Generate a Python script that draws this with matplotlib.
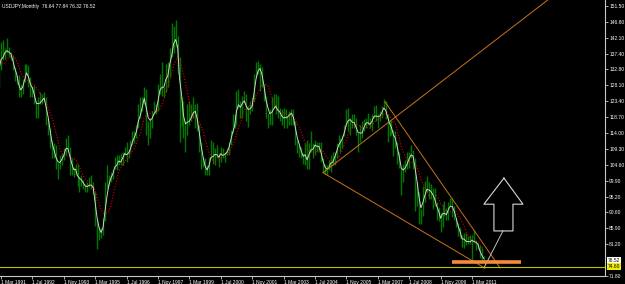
import matplotlib
matplotlib.use("Agg")
import matplotlib.pyplot as plt
import numpy as np
import pandas as pd

# monthly USDJPY bars, Jul 1990 .. Sep 2011 (first 8 months sit left of the visible area)
high = [
    150.5, 151.0, 144.5, 139.5, 134.5, 136.5,
    137.5, 134.0, 141.0, 141.5, 139.0, 142.0, 139.5, 138.0, 137.0, 133.5, 131.0, 131.0,
    128.5, 130.0, 134.5, 134.5, 134.0, 130.5, 128.0, 128.0, 123.5, 124.5, 126.0, 125.5,
    126.0, 124.5, 118.5, 115.5, 112.0, 111.0, 110.5, 105.5, 107.5, 108.0, 109.5, 112.5,
    113.5, 110.0, 106.5, 104.0, 105.0, 105.0, 101.0, 101.5, 100.0, 99.0, 99.5, 101.0,
    101.5, 99.5, 96.5, 88.5, 86.0, 86.0, 89.0, 99.5, 104.5, 101.5, 102.5, 103.5,
    107.0, 107.5, 107.5, 108.0, 108.5, 110.0, 111.5, 109.0, 112.0, 114.5, 114.5, 116.5,
    122.5, 124.5, 124.5, 127.5, 127.0, 117.5, 118.5, 120.5, 123.5, 122.5, 128.5, 131.5,
    135.0, 127.5, 134.5, 135.0, 139.0, 146.5, 145.5, 147.5, 142.5, 136.5, 124.5, 123.5,
    117.5, 122.5, 123.5, 122.5, 124.5, 122.5, 123.0, 116.5, 111.5, 107.0, 106.5, 104.5,
    107.0, 112.0, 111.5, 109.5, 110.5, 108.0, 110.0, 109.5, 108.5, 109.5, 111.5, 115.0,
    119.5, 119.5, 126.5, 127.0, 123.5, 125.0, 126.5, 125.5, 122.0, 123.5, 124.5, 131.5,
    135.0, 135.2, 134.5, 133.5, 128.5, 125.0, 120.0, 121.0, 124.5, 125.5, 125.5, 125.0,
    121.5, 121.0, 121.5, 121.0, 119.0, 120.5, 121.0, 121.0, 117.5, 112.0, 110.5, 110.0,
    108.0, 111.0, 112.0, 111.0, 114.5, 111.0, 112.0, 111.5, 111.5, 111.5, 106.5, 105.0,
    104.5, 106.0, 107.5, 108.5, 108.5, 111.0, 113.5, 112.5, 113.5, 116.5, 121.0, 121.5,
    118.5, 119.5, 119.5, 118.5, 114.0, 116.5, 117.5, 118.0, 118.5, 119.8, 118.5, 119.5,
    122.0, 122.2, 119.5, 120.5, 122.0, 124.1, 123.5, 119.5, 117.5, 117.9, 115.0, 114.5,
    111.5, 108.5, 104.0, 105.0, 106.0, 108.5, 108.5, 110.6, 109.0, 106.5, 99.5, 96.5,
    91.5, 98.5, 99.7, 101.4, 99.5, 98.9, 97.8, 97.8, 93.5, 92.3, 90.8, 93.0,
    93.8, 91.8, 93.5, 94.8, 94.9, 92.5, 89.0, 87.3, 86.2, 83.9, 84.5, 84.5,
    83.7, 84.0, 83.9, 85.5, 82.3, 81.5, 81.0, 80.2, 77.84,
]
low = [
    145.0, 143.5, 136.5, 124.5, 126.5, 132.5,
    130.5, 127.5, 132.5, 135.5, 136.0, 137.5, 136.5, 135.5, 132.5, 129.5, 128.5, 124.5,
    124.5, 125.5, 129.0, 131.5, 127.5, 124.5, 124.5, 122.5, 118.5, 118.5, 122.5, 122.5,
    123.5, 116.5, 113.5, 109.5, 106.5, 106.5, 103.5, 100.5, 103.5, 104.5, 106.0, 107.5,
    108.5, 101.5, 101.5, 101.0, 101.5, 98.5, 96.5, 98.5, 97.5, 96.5, 96.5, 98.0,
    97.5, 96.0, 86.5, 79.8, 82.5, 83.0, 84.0, 88.0, 97.5, 98.5, 99.5, 100.5,
    103.5, 103.0, 104.5, 104.5, 104.5, 107.5, 105.5, 106.5, 108.5, 110.5, 111.0, 112.5,
    115.5, 118.5, 120.5, 122.5, 113.5, 110.5, 112.5, 115.5, 119.5, 119.5, 120.5, 125.5,
    125.0, 124.5, 126.0, 127.5, 130.5, 136.5, 137.5, 139.5, 131.5, 111.5, 116.0, 112.5,
    108.5, 113.5, 116.5, 117.5, 118.5, 115.5, 114.5, 108.5, 103.5, 104.0, 101.5, 101.5,
    101.5, 106.5, 105.0, 104.5, 106.5, 104.0, 105.5, 106.5, 105.5, 107.5, 107.5, 110.5,
    114.0, 115.5, 116.5, 121.5, 118.5, 118.5, 123.0, 117.5, 115.8, 119.5, 120.5, 123.5,
    130.5, 131.5, 126.5, 127.5, 123.5, 118.5, 115.5, 116.5, 116.5, 121.5, 119.5, 118.5,
    117.5, 116.5, 115.5, 118.0, 115.5, 116.5, 116.5, 116.5, 110.5, 108.0, 107.0, 106.5,
    105.0, 104.5, 103.5, 103.5, 108.5, 106.5, 107.5, 108.5, 108.5, 105.5, 102.5, 101.8,
    101.5, 103.0, 102.5, 104.5, 104.5, 106.5, 110.0, 108.5, 109.5, 113.0, 116.0, 114.5,
    113.5, 115.5, 115.5, 113.5, 108.5, 111.5, 112.5, 114.5, 115.5, 116.5, 115.5, 114.5,
    118.5, 117.5, 115.5, 117.5, 118.5, 121.0, 118.0, 111.5, 113.0, 113.5, 107.3, 109.5,
    104.9, 103.8, 95.7, 99.5, 102.5, 103.5, 103.7, 106.5, 103.5, 90.9, 92.5, 87.1,
    87.1, 89.5, 93.5, 96.5, 94.5, 94.5, 91.7, 92.5, 88.2, 88.0, 84.8, 86.3,
    89.5, 88.3, 88.2, 92.5, 89.2, 88.4, 86.2, 83.6, 82.9, 80.4, 80.2, 81.0,
    81.2, 81.1, 76.3, 81.4, 79.6, 79.7, 77.2, 75.9, 76.32,
]
close = [
    146.5, 144.0, 138.0, 129.0, 133.0, 135.5,
    131.0, 132.5, 140.5, 136.5, 138.5, 138.5, 137.5, 136.5, 133.0, 130.5, 130.0, 125.0,
    125.5, 129.5, 133.0, 133.5, 127.5, 125.5, 127.0, 123.5, 119.5, 123.5, 124.0, 124.5,
    124.5, 117.5, 115.5, 111.0, 107.5, 107.5, 105.0, 104.5, 105.5, 108.0, 108.5, 111.5,
    109.0, 104.0, 102.5, 102.0, 104.5, 98.5, 100.0, 100.0, 98.5, 97.0, 98.5, 99.5,
    98.5, 96.5, 87.0, 84.0, 84.5, 84.5, 88.5, 97.5, 99.5, 101.5, 101.5, 103.0,
    106.5, 104.5, 107.0, 104.5, 108.5, 109.5, 106.5, 108.5, 111.5, 114.0, 113.5, 116.0,
    121.5, 120.5, 124.0, 127.0, 116.5, 114.5, 118.5, 120.5, 121.0, 120.5, 127.5, 130.5,
    127.0, 126.5, 133.5, 132.0, 138.5, 139.0, 144.5, 141.5, 135.5, 116.5, 123.0, 113.5,
    116.0, 118.5, 118.5, 119.5, 121.5, 120.5, 114.5, 109.5, 106.0, 104.5, 102.0, 102.5,
    107.0, 110.0, 106.0, 108.0, 107.5, 106.0, 109.5, 106.5, 108.0, 109.0, 111.0, 114.5,
    116.5, 117.5, 126.0, 123.5, 119.0, 124.5, 125.0, 119.0, 119.5, 122.5, 123.5, 131.0,
    134.5, 133.5, 132.5, 128.5, 124.0, 119.5, 120.0, 118.5, 121.5, 122.5, 122.5, 118.5,
    120.0, 118.0, 118.0, 119.0, 119.0, 120.0, 120.5, 116.5, 111.5, 109.5, 109.5, 107.0,
    105.5, 109.0, 104.0, 110.5, 110.5, 109.0, 111.5, 109.5, 110.0, 106.0, 103.0, 102.5,
    103.5, 104.5, 107.0, 105.0, 108.5, 110.5, 112.5, 111.5, 113.5, 116.5, 119.5, 118.0,
    117.5, 116.0, 117.5, 113.5, 112.5, 114.5, 114.5, 118.0, 118.0, 116.5, 115.5, 119.0,
    121.0, 118.5, 118.0, 119.5, 121.5, 123.0, 119.0, 116.0, 115.0, 115.0, 111.0, 111.5,
    106.5, 104.0, 100.0, 104.0, 105.5, 106.0, 108.0, 108.5, 106.0, 98.5, 95.5, 90.5,
    89.5, 97.5, 98.5, 98.5, 95.5, 96.5, 95.0, 93.0, 89.8, 90.0, 86.5, 93.0,
    90.3, 88.9, 93.5, 93.9, 91.3, 88.4, 86.5, 84.2, 83.5, 80.4, 83.7, 81.2,
    82.0, 81.8, 83.1, 81.2, 81.5, 80.5, 76.8, 76.64, 76.52,
]
first_visible = 8  # index of Mar 1991

x_labels = ["1 Mar 1991", "1 Jul 1992", "1 Nov 1993", "1 Mar 1995", "1 Jul 1996",
            "1 Nov 1997", "1 Mar 1999", "1 Jul 2000", "1 Nov 2001", "1 Mar 2003",
            "1 Jul 2004", "1 Nov 2005", "1 Mar 2007", "1 Jul 2008", "1 Nov 2009",
            "1 Mar 2011"]
y_ticks = [151.50, 146.80, 142.10, 137.40, 132.80, 128.10, 123.40, 118.70, 114.00,
           109.30, 104.60, 99.90, 95.20, 90.60, 85.90, 81.20, 71.80]
last_price = 76.52
ask_line = 74.60

# hand-drawn objects, (month index from Mar 1991, price)
fan_up = [(164.1, 102.3), (278.7, 153.3)]
fan_down = [(164.1, 102.3), (246.6, 74.1)]
top_line = [(195.7, 123.2), (254.3, 74.2)]
white_line = [(255.8, 85.1), (246.1, 74.2)]
support = [(229.8, 75.8), (265.0, 75.8)]
arrow_x = [256.3, 266.0, 260.9, 260.9, 251.2, 251.2, 246.1, 256.3]
arrow_y = [100.7, 93.0, 93.0, 85.1, 85.1, 93.0, 93.0, 100.7]

df = pd.DataFrame({"high": high, "low": low, "close": close})
df["m"] = np.arange(len(df)) - first_visible
w = np.arange(1, 5)
df["fast"] = df["close"].rolling(4).apply(lambda s: np.dot(s, w) / w.sum(), raw=True)
df["slow"] = df["close"].rolling(8).mean()

fig = plt.figure(figsize=(6.25, 2.84), dpi=100, facecolor="black")
ax = fig.add_axes([0, 8 / 284, 605 / 625, 276 / 284])
ax.set_facecolor("black")
ax.set_xlim(-0.5, 307.8)
ax.set_ylim(71.8, 153.27)

ax.vlines(df["m"], df["low"], df["high"], color="#007800", lw=1.0)
ax.plot(df["m"], df["slow"], color="#e00000", lw=0.8, linestyle=(0, (1, 1.6)))
ax.plot(df["m"], df["fast"], color="#d8d8d8", lw=0.65)

trend = "#c8731c"
for line in (fan_up, fan_down, top_line):
    (x0, y0), (x1, y1) = line
    ax.plot([x0, x1], [y0, y1], color=trend, lw=0.7)
(x0, y0), (x1, y1) = white_line
ax.plot([x0, x1], [y0, y1], color="#c0c0c0", lw=0.7)
ax.plot(arrow_x, arrow_y, color="#d8d8d8", lw=0.8)
(x0, y0), (x1, y1) = support
ax.plot([x0, x1], [y0, y1], color="#f58a3c", lw=2.6, solid_capstyle="butt")
ax.axhline(ask_line, color="#c0c000", lw=0.8)

for s in ("left", "top"):
    ax.spines[s].set_visible(False)
for s in ("right", "bottom"):
    ax.spines[s].set_color("#c8c8c8")
    ax.spines[s].set_linewidth(0.8)

ax.yaxis.tick_right()
ax.set_yticks(y_ticks)
ax.set_yticklabels([f"{v:.2f}" for v in y_ticks])
ax.set_xticks(np.arange(len(x_labels)) * 16)
ax.set_xticklabels(x_labels, ha="left")
ax.tick_params(colors="#c8c8c8", labelcolor="white", labelsize=3.5, length=2,
               width=0.6, pad=1)
for lab in ax.get_xticklabels() + ax.get_yticklabels():
    lab.set_family("Liberation Sans")

box = dict(boxstyle="square,pad=0.15", lw=0)
ax.annotate(f"{last_price:.2f}", xy=(1.004, last_price), xycoords=("axes fraction", "data"),
            fontsize=3.5, family="Liberation Sans", color="black", va="center",
            bbox=dict(box, fc="white"))
ax.annotate(f"{ask_line:.2f}", xy=(1.004, ask_line), xycoords=("axes fraction", "data"),
            fontsize=3.5, family="Liberation Sans", color="black", va="center",
            bbox=dict(box, fc="#f0f000"))

ax.text(0.004, 0.985, "USDJPY,Monthly  76.64 77.84 76.32 76.52", transform=ax.transAxes,
        fontsize=3.5, family="Liberation Sans", color="white", va="top")

fig.savefig("out.png", dpi=100, facecolor="black")
